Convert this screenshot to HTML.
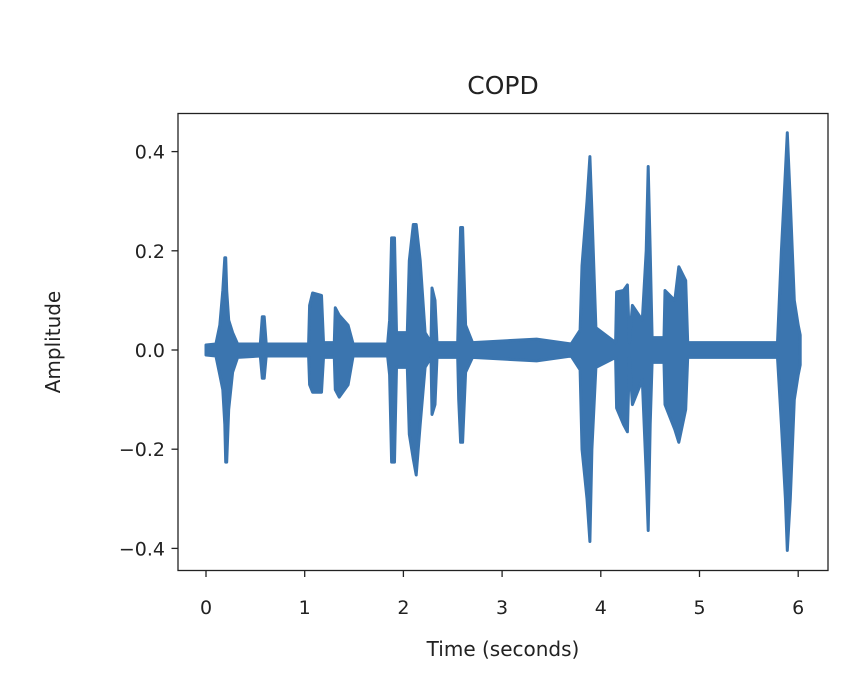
<!DOCTYPE html>
<html><head><meta charset="utf-8"><style>
body{margin:0;background:#fff;}
svg text{font-family:"DejaVu Sans","Liberation Sans",sans-serif;fill:#222;}
</style></head><body>
<svg id="chart" width="856" height="680" xmlns="http://www.w3.org/2000/svg">
<rect width="856" height="680" fill="#fff"/>
<text x="503" y="94" font-size="25" text-anchor="middle">COPD</text>
<g id="plot"></g>
<rect x="178" y="113.5" width="650" height="457" fill="none" stroke="#222" stroke-width="1.3"/>
<g id="xticks"></g>
<g id="yticks"></g>
<text x="503" y="656" font-size="20" text-anchor="middle">Time (seconds)</text>
<text transform="translate(60,342) rotate(-90)" font-size="20" text-anchor="middle">Amplitude</text>
</svg>
<script>
const times = [0.00,0.10,0.14,0.17,0.19,0.20,0.21,0.23,0.27,0.32,0.55,0.57,0.59,0.61,1.04,1.05,1.08,1.17,1.19,1.30,1.31,1.35,1.44,1.49,1.84,1.86,1.88,1.91,1.93,2.04,2.06,2.10,2.13,2.17,2.22,2.28,2.29,2.32,2.34,2.55,2.56,2.58,2.60,2.63,2.70,3.35,3.70,3.79,3.81,3.86,3.89,3.91,3.95,4.15,4.16,4.23,4.27,4.29,4.32,4.42,4.46,4.48,4.50,4.52,4.64,4.65,4.75,4.79,4.86,4.88,5.79,5.83,5.87,5.89,5.92,5.96,6.00,6.02];
const upper = [.010,.012,.05,.12,.186,.186,.12,.06,.035,.012,.012,.067,.067,.012,.012,.09,.115,.11,.015,.015,.085,.07,.05,.012,.012,.06,.226,.226,.035,.035,.18,.253,.253,.18,.035,.015,.125,.1,.015,.015,.1,.247,.247,.05,.015,.022,.012,.04,.17,.3,.39,.28,.045,.015,.117,.12,.131,.015,.09,.06,.2,.37,.2,.025,.025,.12,.1,.168,.14,.015,.015,.2,.36,.438,.3,.1,.05,.03];
const lower = [-.010,-.012,-.05,-.08,-.15,-.226,-.226,-.12,-.045,-.015,-.012,-.057,-.057,-.012,-.012,-.07,-.085,-.085,-.015,-.015,-.08,-.095,-.07,-.012,-.012,-.05,-.226,-.226,-.035,-.035,-.17,-.22,-.252,-.15,-.035,-.015,-.13,-.11,-.015,-.015,-.1,-.186,-.186,-.045,-.015,-.022,-.012,-.04,-.2,-.3,-.386,-.2,-.035,-.015,-.117,-.15,-.165,-.015,-.11,-.06,-.25,-.364,-.15,-.025,-.025,-.11,-.16,-.186,-.12,-.015,-.015,-.15,-.3,-.404,-.3,-.1,-.05,-.03];
const xTicks = [0,1,2,3,4,5,6];
const yTicks = [-0.4,-0.2,0.0,0.2,0.4];
const yTickLabels = ["\u22120.4","\u22120.2","0.0","0.2","0.4"];

const NS="http://www.w3.org/2000/svg";
const xs = t => 206 + t*98.7;
const ys = v => 350 - v*496;
function mk(tag, parent){const e=document.createElementNS(NS,tag);parent.appendChild(e);return e;}

const plot=document.getElementById('plot');
let pts=[];
for(let i=0;i<times.length;i++) pts.push(xs(times[i]).toFixed(1)+','+ys(upper[i]).toFixed(1));
for(let i=times.length-1;i>=0;i--) pts.push(xs(times[i]).toFixed(1)+','+ys(lower[i]).toFixed(1));
const poly=mk('polygon',plot);


poly.setAttribute('points',pts.join(' '));
poly.setAttribute('fill','#3b75af');
poly.setAttribute('stroke','#3b75af');
poly.setAttribute('stroke-width','3');
poly.setAttribute('stroke-linejoin','round');

const xg=document.getElementById('xticks');
xTicks.forEach(t=>{
  const l=mk('line',xg);
  
  
  l.setAttribute('x1',xs(t));l.setAttribute('x2',xs(t));l.setAttribute('y1',570.5);l.setAttribute('y2',577);
  l.setAttribute('stroke','#222');l.setAttribute('stroke-width','1.3');
  const tx=mk('text',xg);
  
  
  tx.setAttribute('x',xs(t));tx.setAttribute('y',614);tx.setAttribute('font-size','19');tx.setAttribute('text-anchor','middle');
  tx.textContent=String(t);
});
const yg=document.getElementById('yticks');
yTicks.forEach((v,i)=>{
  const l=mk('line',yg);
  
  
  l.setAttribute('x1',171.5);l.setAttribute('x2',178);l.setAttribute('y1',ys(v));l.setAttribute('y2',ys(v));
  l.setAttribute('stroke','#222');l.setAttribute('stroke-width','1.3');
  const tx=mk('text',yg);
  
  
  tx.setAttribute('x',165);tx.setAttribute('y',ys(v)+7);tx.setAttribute('font-size','19');tx.setAttribute('text-anchor','end');
  tx.textContent=yTickLabels[i];
});
</script>
</body></html>
